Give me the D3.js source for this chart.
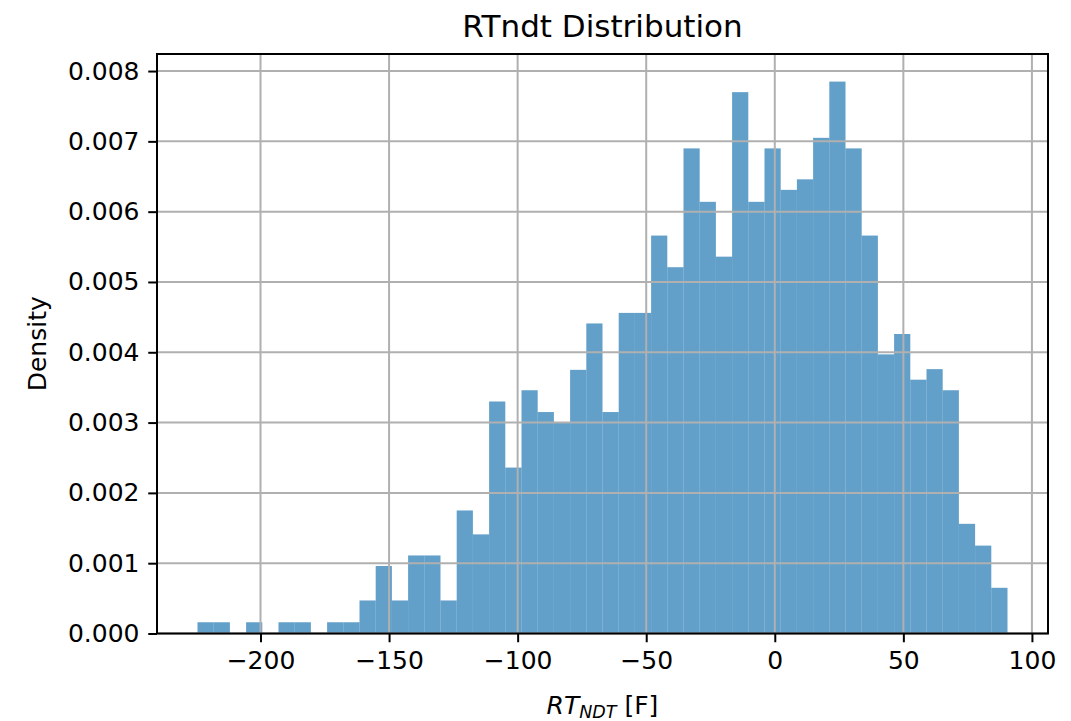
<!DOCTYPE html>
<html lang="en">
<head>
    <meta charset="UTF-8">
    <title>RTndt Distribution</title>
    <script src="https://cdn.jsdelivr.net/npm/d3@7"></script>
    <style>
        html, body {
            margin: 0;
            padding: 0;
            width: 100%;
            height: 100%;
            overflow: hidden;
            background: #fff;
        }
        text {
            font-family: "DejaVu Sans", sans-serif;
            fill: #000;
        }
    </style>
</head>
<body>
</body>
<script>
    let width = 1071;
    let height = 721;

    // histogram: 50 bins, first edge and bin width
    let binStart = -224.5;
    let binWidth = 6.3;
    let density = [
        0.00016, 0.00016, 0, 0.00016, 0, 0.00016, 0.00016, 0, 0.00016, 0.00016,
        0.00047, 0.00096, 0.00047, 0.00111, 0.00111, 0.00047, 0.00175, 0.00141, 0.0033, 0.00236,
        0.00346, 0.00315, 0.003, 0.00375, 0.00441, 0.00315, 0.00456, 0.00456, 0.00566, 0.00521,
        0.0069, 0.00614, 0.00536, 0.0077, 0.00614, 0.0069, 0.00631, 0.00646, 0.00705, 0.00785,
        0.0069, 0.00566, 0.00397, 0.00426, 0.00361, 0.00376, 0.00346, 0.00156, 0.00125, 0.00065
    ];

    let xTicks = [-200, -150, -100, -50, 0, 50, 100];
    let yTicks = [0, 0.001, 0.002, 0.003, 0.004, 0.005, 0.006, 0.007, 0.008];

    let bins = density.map((d, i) => ({
        x0: binStart + i * binWidth,
        x1: binStart + (i + 1) * binWidth,
        y: d
    }));

    let margin = {left: 157, right: 1048, top: 54, bottom: 633.5};
    let tickLen = 8.75;

    // matplotlib style 5% margins on x, 5% headroom on y
    let lo = binStart, hi = binStart + density.length * binWidth;
    let pad = (hi - lo) * 0.05;
    let x = d3.scaleLinear().domain([lo - pad, hi + pad]).range([margin.left, margin.right]);
    let y = d3.scaleLinear().domain([0, d3.max(density) * 1.05]).range([margin.bottom, margin.top]);

    let svg = d3.select('body').append('svg')
        .attr('width', width)
        .attr('height', height);

    // bars
    svg.append('g')
        .selectAll('rect')
        .data(bins)
        .enter().append('rect')
        .attr('x', d => x(d.x0))
        .attr('width', d => x(d.x1) - x(d.x0))
        .attr('y', d => y(d.y))
        .attr('height', d => y(0) - y(d.y))
        .attr('fill', '#1f77b4')
        .attr('fill-opacity', 0.7);

    // grid on top of the bars
    let grid = svg.append('g').attr('stroke', '#b0b0b0').attr('stroke-width', 2);
    grid.selectAll('.gx').data(xTicks).enter().append('line')
        .attr('x1', d => x(d)).attr('x2', d => x(d))
        .attr('y1', margin.top).attr('y2', margin.bottom);
    grid.selectAll('.gy').data(yTicks).enter().append('line')
        .attr('y1', d => y(d)).attr('y2', d => y(d))
        .attr('x1', margin.left).attr('x2', margin.right);

    let minus = v => v < 0 ? '\u2212' + Math.abs(v) : String(v);

    let xAxis = svg.append('g')
        .attr('transform', `translate(0, ${margin.bottom})`)
        .call(d3.axisBottom(x).tickValues(xTicks).tickSize(tickLen).tickPadding(tickLen).tickFormat(minus));

    let yAxis = svg.append('g')
        .attr('transform', `translate(${margin.left}, 0)`)
        .call(d3.axisLeft(y).tickValues(yTicks).tickSize(tickLen).tickPadding(tickLen).tickFormat(d3.format('.3f')));

    [xAxis, yAxis].forEach(a => {
        a.select('.domain').remove();
        a.selectAll('.tick line').attr('stroke', '#000').attr('stroke-width', 2);
        a.selectAll('.tick text').attr('font-size', 25).attr('fill', '#000')
            .style('font-family', '"DejaVu Sans", sans-serif');
    });

    // spines
    svg.append('rect')
        .attr('x', margin.left).attr('y', margin.top)
        .attr('width', margin.right - margin.left)
        .attr('height', margin.bottom - margin.top)
        .attr('fill', 'none')
        .attr('stroke', '#000')
        .attr('stroke-width', 2);

    let cx = (margin.left + margin.right) / 2;

    svg.append('text')
        .attr('x', cx).attr('y', 37)
        .attr('text-anchor', 'middle')
        .attr('font-size', 31)
        .text('RTndt Distribution');

    svg.append('text')
        .attr('transform', `translate(46, ${(margin.top + margin.bottom) / 2}) rotate(-90)`)
        .attr('text-anchor', 'middle')
        .attr('font-size', 25)
        .text('Density');

    let xl = svg.append('text')
        .attr('x', cx).attr('y', 714)
        .attr('text-anchor', 'middle')
        .attr('font-size', 25);
    xl.append('tspan').attr('font-style', 'italic').text('RT');
    xl.append('tspan').attr('font-style', 'italic').attr('font-size', 17.5).attr('dy', 4).text('NDT');
    xl.append('tspan').attr('dy', -4).text(' [F]');
</script>
</html>
